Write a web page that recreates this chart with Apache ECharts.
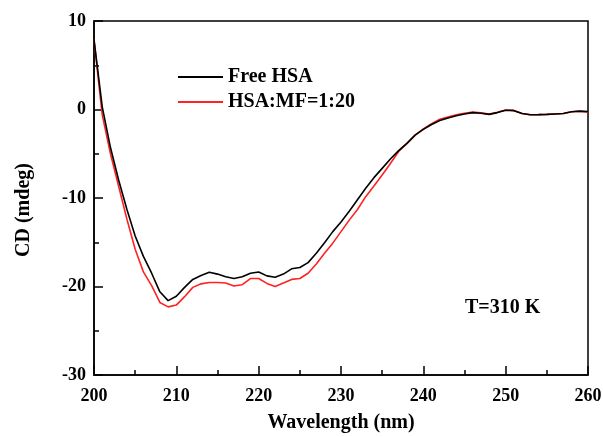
<!DOCTYPE html>
<html>
<head>
<meta charset="utf-8">
<script src="https://cdn.jsdelivr.net/npm/echarts@6/dist/echarts.min.js"></script>
<style>
html,body{margin:0;padding:0;background:#fff;}
#c{width:603px;height:437px;}
</style>
</head>
<body>
<div id="c"></div>
<script>
const wavelength = [200,201,202,203,204,205,206,207,208,209,210,211,212,213,214,215,216,217,218,219,220,221,222,223,224,225,226,227,228,229,230,231,232,233,234,235,236,237,238,239,240,241,242,243,244,245,246,247,248,249,250,251,252,253,254,255,256,257,258,259,260];
const freeHSA = [7.9,0.3,-4.3,-8.0,-11.3,-14.3,-16.6,-18.5,-20.6,-21.6,-21.1,-20.1,-19.2,-18.75,-18.4,-18.6,-18.9,-19.1,-18.9,-18.5,-18.36,-18.8,-18.95,-18.6,-18.0,-17.85,-17.3,-16.25,-15.05,-13.8,-12.7,-11.5,-10.2,-8.9,-7.7,-6.65,-5.6,-4.65,-3.82,-2.9,-2.25,-1.7,-1.25,-0.95,-0.7,-0.5,-0.35,-0.42,-0.55,-0.35,-0.08,-0.13,-0.45,-0.6,-0.58,-0.55,-0.5,-0.45,-0.25,-0.18,-0.22];
const hsaMF = [7.9,-0.6,-5.0,-8.7,-12.4,-15.8,-18.35,-19.9,-21.8,-22.3,-22.1,-21.15,-20.1,-19.7,-19.55,-19.55,-19.6,-19.95,-19.8,-19.1,-19.1,-19.65,-20.0,-19.6,-19.2,-19.1,-18.5,-17.45,-16.25,-15.1,-13.8,-12.5,-11.3,-9.85,-8.65,-7.4,-6.1,-4.75,-3.85,-2.9,-2.2,-1.6,-1.1,-0.85,-0.6,-0.42,-0.3,-0.38,-0.52,-0.32,-0.05,-0.1,-0.45,-0.6,-0.58,-0.55,-0.5,-0.45,-0.25,-0.2,-0.3];
const seriesNames = ['Free HSA', 'HSA:MF=1:20'];
const xTitle = 'Wavelength (nm)';
const yTitle = 'CD (mdeg)';
const note = 'T=310 K';

const FONT = '"Liberation Serif", "Times New Roman", serif';
const pair = (ys) => wavelength.map((w, i) => [w, ys[i]]);

const chart = echarts.init(document.getElementById('c'), null, {renderer: 'canvas'});
chart.setOption({
  animation: false,
  backgroundColor: '#fff',
  grid: {left: 94, right: 15, top: 21, bottom: 62, containLabel: false, outerBoundsMode: 'none', show: true, borderColor: '#000', borderWidth: 1.5, backgroundColor: 'transparent'},
  legend: {
    orient: 'vertical', left: 178, top: 67, itemGap: 5, padding: 0,
    itemWidth: 45, itemHeight: 2, icon: 'rect',
    textStyle: {fontFamily: FONT, fontWeight: 'bold', fontSize: 20, color: '#000'},
    data: seriesNames
  },
  xAxis: {
    type: 'value', min: 200, max: 260, interval: 10,
    name: xTitle, nameLocation: 'middle', nameGap: 38,
    nameTextStyle: {fontFamily: FONT, fontWeight: 'bold', fontSize: 20, color: '#000'},
    axisLine: {onZero: false, lineStyle: {color: '#000', width: 1.5}},
    axisTick: {inside: true, length: 9, lineStyle: {color: '#000', width: 1.5}},
    minorTick: {show: true, splitNumber: 2, length: 5, lineStyle: {color: '#000', width: 1.5}},
    axisLabel: {fontFamily: FONT, fontWeight: 'bold', fontSize: 18, color: '#000', margin: 12},
    splitLine: {show: false}
  },
  yAxis: {
    type: 'value', min: -30, max: 10, interval: 10,
    name: yTitle, nameLocation: 'middle', nameGap: 60, nameRotate: 90,
    nameTextStyle: {fontFamily: FONT, fontWeight: 'bold', fontSize: 20, color: '#000', padding: [0, 24, 0, 0]},
    axisLine: {onZero: false, lineStyle: {color: '#000', width: 1.5}},
    axisTick: {inside: true, length: 9, lineStyle: {color: '#000', width: 1.5}},
    minorTick: {show: true, splitNumber: 2, length: 5, lineStyle: {color: '#000', width: 1.5}},
    axisLabel: {fontFamily: FONT, fontWeight: 'bold', fontSize: 18, color: '#000', margin: 8},
    splitLine: {show: false}
  },
  graphic: [{
    type: 'text', left: 465, top: 298,
    style: {text: note, font: 'bold 20px ' + FONT, fill: '#000'}
  }],
  series: [
    {name: seriesNames[0], type: 'line', data: pair(freeHSA), symbol: 'none', lineStyle: {color: '#000', width: 1.6}, itemStyle: {color: '#000'}, z: 3},
    {name: seriesNames[1], type: 'line', data: pair(hsaMF), symbol: 'none', lineStyle: {color: '#f22', width: 1.6}, itemStyle: {color: '#f22'}, z: 2}
  ]
});
</script>
</body>
</html>
